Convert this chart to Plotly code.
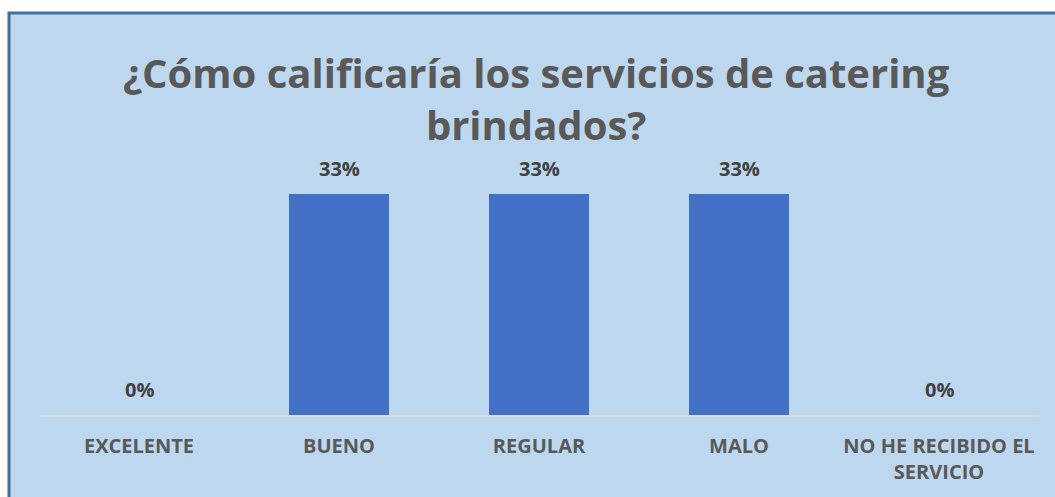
import plotly.graph_objects as go

categories = ["EXCELENTE", "BUENO", "REGULAR", "MALO", "NO HE RECIBIDO EL<br>SERVICIO"]
values = [0.0, 0.3333, 0.3333, 0.3333, 0.0]
labels = ["0%", "33%", "33%", "33%", "0%"]
title_text = "¿Cómo calificaría los servicios de catering<br>brindados?"

W, H = 1055, 497
L, R, T, B = 39, 16, 160, 82
plot_h = H - T - B
FONT = "Open Sans"

def px_x(p):
    return (p - L) / (W - L - R)

def px_y(p):
    return (H - B - p) / plot_h

fig = go.Figure()
fig.add_trace(go.Bar(
    x=categories, y=values, width=0.5,
    marker=dict(color="#4371C7", line=dict(width=0)),
    hoverinfo="skip",
))

for c, v, t in zip(categories, values, labels):
    fig.add_annotation(x=c, y=v, text="<b>" + t + "</b>", showarrow=False, yanchor="middle", yshift=26,
                       font=dict(family=FONT, size=20, color="#404040"))

fig.add_annotation(x=px_x(536), y=px_y(98), xref="paper", yref="paper", text="<b>" + title_text + "</b>",
                   showarrow=False, xanchor="center", yanchor="middle",
                   font=dict(family=FONT, size=40, color="#595959"))

fig.add_shape(type="rect", xref="paper", yref="paper", layer="below",
              x0=px_x(9), x1=px_x(1062), y0=px_y(503), y1=px_y(13),
              fillcolor="#BDD7EE", line=dict(color="#41719C", width=3))

fig.update_layout(
    width=W, height=H,
    margin=dict(l=L, r=R, t=T, b=B, pad=0, autoexpand=False),
    paper_bgcolor="white", plot_bgcolor="rgba(0,0,0,0)",
    showlegend=False,
    bargap=0.5,
    xaxis=dict(showline=True, linecolor="#D9D9D9", linewidth=2, showgrid=False, zeroline=False,
               ticks="", ticklabelstandoff=12, automargin=False,
               tickfont=dict(family=FONT, size=20, color="#595959", weight="bold")),
    yaxis=dict(range=[0, 0.3333 * plot_h / 221], visible=False, showgrid=False, zeroline=False,
               automargin=False),
)

fig.write_html("out.html")
